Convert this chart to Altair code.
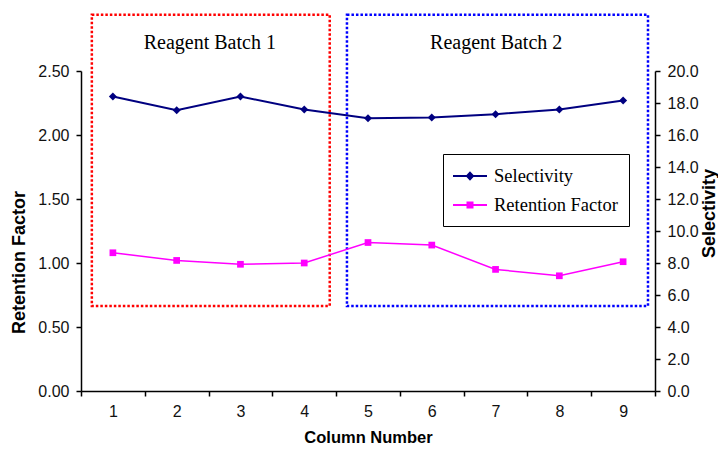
import altair as alt
import pandas as pd

# ---- data ----
columns = [1, 2, 3, 4, 5, 6, 7, 8, 9]
selectivity = [18.4, 17.55, 18.4, 17.6, 17.05, 17.1, 17.3, 17.6, 18.15]
retention = [1.08, 1.02, 0.99, 1.00, 1.16, 1.14, 0.95, 0.90, 1.01]

series_names = ["Selectivity", "Retention Factor"]
series_colors = ["#000080", "#FF00FF"]

box_labels = ["Reagent Batch 1", "Reagent Batch 2"]
box_x_start = [0.67, 4.67]
box_x_end = [4.40, 9.39]
box_y_start = [0.665, 0.665]
box_y_end = [2.94, 2.94]
box_colors = ["#FF0000", "#0000FF"]
label_x = [2.52, 7.01]
label_y = [2.72, 2.72]

x_ticks = [0.5, 1.5, 2.5, 3.5, 4.5, 5.5, 6.5, 7.5, 8.5, 9.5]
left_ticks = [0, 0.5, 1.0, 1.5, 2.0, 2.5]
right_ticks = [0, 2, 4, 6, 8, 10, 12, 14, 16, 18, 20]

# ---- tables ----
df = pd.DataFrame({"col": columns, "sel": selectivity, "ret": retention})
box_df = pd.DataFrame({"x0": box_x_start, "x1": box_x_end, "y0": box_y_start,
                       "y1": box_y_end, "color": box_colors})
label_df = pd.DataFrame({"lx": label_x, "ly": label_y, "label": box_labels})
legend_df = pd.DataFrame({"series": series_names})

W, H = 574, 320

xs = alt.Scale(domain=[0.5, 9.5], nice=False, zero=False)
xa = alt.Axis(values=x_ticks, title="Column Number", labelOffset=W / 18,
              labelExpr="datum.value < 9 ? format(datum.value + 0.5, 'd') : ''",
              labelFlush=False, labelPadding=7, titlePadding=10, grid=False)
ls = alt.Scale(domain=[0, 2.5], nice=False)
la = alt.Axis(values=left_ticks, format=".2f", title="Retention Factor",
              labelPadding=7, titlePadding=9, titleFontSize=18, titleY=191, grid=False)
rs = alt.Scale(domain=[0, 20], nice=False)
ra = alt.Axis(values=right_ticks, format=".1f", title="Selectivity", orient="right",
              labelPadding=7, titlePadding=2, titleFontSize=18, titleAngle=270,
              titleBaseline="top", titleY=142, grid=False)

diamond_path = "M-1.7,0H1.7M0,-0.35L0.32,0L0,0.35L-0.32,0Z"
square_path = "M-1.7,0H1.7M-0.26,-0.26H0.26V0.26H-0.26Z"

leg = alt.Legend(title=None, orient="none", legendX=362, legendY=83, direction="vertical",
                 padding=11, strokeColor="black", fillColor="white",
                 labelFont="Liberation Serif", labelFontSize=18.5, labelColor="black",
                 symbolSize=400, symbolStrokeWidth=1.8, rowPadding=8,
                 symbolOffset=5, labelOffset=13)

boxes = alt.Chart(box_df).mark_rect(fillOpacity=0, strokeWidth=2.5, strokeDash=[2.5, 2]).encode(
    x=alt.X("x0:Q", scale=xs, axis=xa), x2="x1:Q",
    y=alt.Y("y0:Q", scale=ls, axis=la), y2="y1:Q",
    stroke=alt.Stroke("color:N", scale=None),
)

texts = alt.Chart(label_df).mark_text(font="Liberation Serif", fontSize=20, color="black",
                                      align="center", baseline="middle").encode(
    x=alt.X("lx:Q", scale=xs, axis=xa),
    y=alt.Y("ly:Q", scale=ls, axis=la),
    text="label:N",
)

ret_line = alt.Chart(df).mark_line(color=series_colors[1], strokeWidth=1.5).encode(
    x=alt.X("col:Q", scale=xs, axis=xa),
    y=alt.Y("ret:Q", scale=ls, axis=la),
)
ret_pts = alt.Chart(df).mark_point(shape="square", filled=True, size=45, opacity=1,
                                   color=series_colors[1]).encode(
    x=alt.X("col:Q", scale=xs, axis=xa),
    y=alt.Y("ret:Q", scale=ls, axis=la),
)

legend_layer = alt.Chart(legend_df).transform_filter("false").mark_point(
    filled=True, size=400, opacity=1, strokeWidth=1.8).encode(
    fill=alt.Fill("series:N", scale=alt.Scale(domain=series_names, range=series_colors), legend=leg),
    stroke=alt.Stroke("series:N", scale=alt.Scale(domain=series_names, range=series_colors), legend=leg),
    shape=alt.Shape("series:N", scale=alt.Scale(domain=series_names, range=[diamond_path, square_path]), legend=leg),
)

left = alt.layer(boxes, texts, ret_line, ret_pts, legend_layer)

sel_line = alt.Chart(df).mark_line(color=series_colors[0], strokeWidth=2).encode(
    x=alt.X("col:Q", scale=xs, axis=xa),
    y=alt.Y("sel:Q", scale=rs, axis=ra),
)
sel_pts = alt.Chart(df).mark_point(shape="diamond", filled=True, size=64, opacity=1,
                                   color=series_colors[0]).encode(
    x=alt.X("col:Q", scale=xs, axis=xa),
    y=alt.Y("sel:Q", scale=rs, axis=ra),
)
right = alt.layer(sel_line, sel_pts)

chart = alt.layer(left, right).resolve_scale(y="independent").properties(
    width=W, height=H,
    padding={"left": 73, "top": 63, "right": 63, "bottom": 55},
    autosize=alt.AutoSizeParams(type="none"),
).configure_view(stroke=None).configure_axis(
    domainColor="black", domainWidth=1.5, tickColor="black", tickWidth=1.5, tickSize=5,
    labelFont="Liberation Sans", labelFontSize=16, labelColor="#111111",
    titleFont="Liberation Sans", titleFontSize=16.5, titleFontWeight="bold", titleColor="black",
)

chart.save("out.html", embed_options={"renderer": "svg", "actions": False})
